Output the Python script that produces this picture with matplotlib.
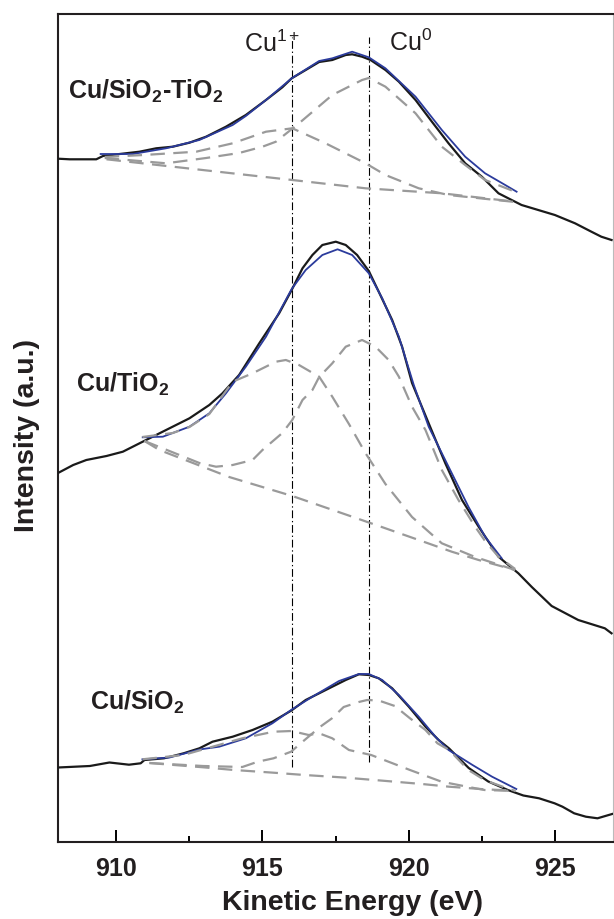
import matplotlib
matplotlib.use("Agg")
import matplotlib.pyplot as plt
from matplotlib.ticker import MultipleLocator

plt.rcParams['font.family'] = ['Liberation Sans', 'DejaVu Sans']
plt.rcParams['mathtext.fontset'] = 'custom'
plt.rcParams['mathtext.rm'] = 'Liberation Sans'
plt.rcParams['mathtext.bf'] = 'Liberation Sans:bold'
plt.rcParams['mathtext.it'] = 'Liberation Sans:italic'

# ---------------- data (kinetic energy eV, intensity a.u. with vertical offsets) -------------
# Cu/SiO2-TiO2 (top)
top_raw_E = [908.00, 908.40, 909.31, 909.54, 910.11, 910.79, 911.36, 911.93, 912.50, 913.07, 913.75,
             914.43, 915.12, 915.68, 916.00, 916.48, 916.94, 917.39, 917.85, 918.07, 918.41, 918.70,
             919.21, 919.67, 920.24, 920.80, 921.37, 921.94, 922.51, 923.08, 923.53, 923.87, 924.44,
             925.01, 925.70, 926.26, 926.60, 926.95]
top_raw_I = [683.3, 682.7, 682.7, 686.0, 688.0, 690.3, 693.7, 695.3, 699.3, 705.3, 715.3,
             727.0, 742.0, 754.7, 763.7, 772.0, 780.0, 782.0, 787.0, 787.7, 785.3, 782.0,
             772.0, 760.3, 742.0, 720.3, 698.7, 678.7, 665.3, 648.7, 642.0, 637.0, 632.0,
             627.0, 618.7, 610.3, 605.3, 602.0]
top_fit_E = [909.46, 910.56, 911.70, 912.84, 913.98, 914.43, 915.12, 916.00, 916.94, 917.39, 918.07,
             918.64, 919.21, 920.24, 921.14, 921.94, 922.62, 923.31, 923.70]
top_fit_I = [688.0, 688.0, 693.7, 702.0, 717.0, 726.0, 742.0, 763.7, 781.0, 783.7, 790.3,
             784.7, 773.7, 745.3, 712.0, 685.3, 668.7, 657.0, 650.3]
top_bg_E = [909.66, 916.02, 918.53, 921.14, 923.65]
top_bg_I = [682.7, 662.0, 653.7, 648.7, 640.3]
top_cu1_E = [909.60, 910.93, 912.73, 913.98, 915.12, 916.02, 917.16, 918.53, 919.21, 920.35, 921.37, 923.65]
top_cu1_I = [685.0, 687.0, 690.3, 698.7, 710.3, 713.7, 698.7, 678.7, 667.0, 653.7, 647.0, 640.0]
top_cu0_E = [909.60, 911.70, 913.07, 914.20, 915.00, 915.46, 916.25, 917.39, 918.41, 918.64, 919.21,
             920.24, 921.14, 921.94, 922.62, 923.65]
top_cu0_I = [684.0, 678.7, 684.0, 689.0, 695.3, 700.3, 718.7, 747.0, 762.0, 764.0, 755.3,
             728.7, 695.3, 677.0, 662.0, 650.3]

# Cu/TiO2 (middle)
mid_raw_E = [908.02, 908.52, 908.97, 909.66, 910.22, 910.90, 911.70, 912.50, 913.18, 913.63, 914.20,
             914.89, 915.57, 916.00, 916.37, 916.71, 917.05, 917.51, 917.85, 918.24, 918.64, 918.98,
             919.44, 919.78, 920.12, 920.69, 921.26, 921.83, 922.40, 923.08, 923.76, 924.22, 924.90,
             925.81, 926.72, 926.95]
mid_raw_I = [369.3, 377.0, 382.0, 386.0, 390.3, 400.3, 412.0, 423.7, 437.0, 448.7, 467.0,
             498.7, 528.7, 552.0, 573.7, 587.0, 597.0, 600.3, 597.0, 587.0, 571.0, 550.3,
             522.0, 495.3, 459.0, 418.7, 378.7, 342.0, 315.3, 285.3, 268.7, 255.0, 236.0,
             222.0, 213.7, 208.7]
mid_fit_E = [910.90, 911.59, 912.50, 913.18, 913.75, 914.43, 915.12, 916.00, 916.48, 917.05, 917.57,
             918.07, 918.64, 919.10, 919.67, 920.18, 920.69, 921.37, 922.05, 922.62, 923.19]
mid_fit_I = [404.7, 405.3, 415.3, 428.7, 448.7, 475.3, 505.3, 553.0, 572.0, 587.0, 592.7,
             587.0, 568.7, 543.7, 505.3, 457.0, 415.3, 375.3, 335.3, 305.3, 283.7]
mid_bg_E = [910.96, 911.47, 913.86, 916.02, 918.07, 919.21, 920.35, 921.48, 922.40, 923.65]
mid_bg_I = [401.0, 392.0, 365.0, 346.0, 325.3, 313.7, 302.0, 290.3, 282.0, 272.0]
mid_cu1_E = [910.89, 911.93, 912.50, 913.18, 913.98, 914.66, 915.46, 915.80, 916.25, 916.94, 917.39,
             917.96, 918.53, 919.21, 920.12, 921.14, 922.28, 923.65]
mid_cu1_I = [405.0, 409.0, 415.0, 428.0, 460.3, 468.7, 480.3, 482.0, 477.0, 465.3, 445.3,
             418.0, 388.7, 358.0, 325.0, 298.7, 285.0, 272.0]
mid_cu0_E = [910.96, 912.84, 913.41, 913.98, 914.66, 915.00, 915.68, 916.02, 916.37, 916.71, 916.94,
             917.39, 917.85, 918.41, 918.87, 919.32, 919.67, 920.12, 920.58, 921.14, 921.71, 922.28,
             922.62, 923.08, 923.65]
mid_cu0_I = [401.0, 379.0, 375.3, 377.0, 382.0, 392.0, 409.0, 422.0, 442.0, 452.0, 465.0,
             478.7, 495.3, 502.0, 495.3, 482.0, 465.3, 435.3, 412.0, 372.0, 342.0, 315.3,
             301.0, 285.3, 273.0]

# Cu/SiO2 (bottom)
bot_raw_E = [908.00, 909.09, 909.76, 910.43, 910.83, 910.96, 911.63, 912.30, 912.84, 913.29, 913.98,
             914.66, 915.34, 915.99, 916.48, 916.94, 917.39, 917.85, 918.30, 918.64, 918.98, 919.44,
             920.01, 920.58, 921.03, 921.39, 922.06, 922.73, 923.40, 923.93, 924.47, 925.00, 925.27,
             925.67, 926.07, 926.47, 926.97]
bot_raw_I = [74.5, 76.0, 79.5, 77.3, 78.7, 82.0, 83.7, 88.7, 93.7, 100.3, 105.3,
             112.0, 120.3, 131.5, 142.0, 148.7, 155.3, 162.0, 167.7, 167.0, 163.7, 153.7,
             135.3, 115.3, 102.0, 93.5, 74.0, 60.5, 52.0, 46.5, 43.7, 38.7, 35.3,
             28.7, 25.3, 23.7, 28.0]
bot_fit_E = [910.89, 911.82, 912.84, 913.52, 914.43, 915.34, 915.98, 916.71, 917.62, 918.30, 918.64,
             919.10, 919.67, 920.35, 920.92, 921.37, 922.19, 922.86, 923.69]
bot_fit_I = [82.7, 84.5, 92.5, 95.3, 103.7, 118.7, 132.0, 145.3, 161.0, 168.0, 168.0,
             162.0, 147.0, 125.3, 105.3, 92.0, 77.0, 65.3, 53.0]
bot_bg_E = [911.13, 911.76, 912.97, 914.03, 915.38, 916.44, 917.78, 919.12, 920.46, 921.39, 922.60, 923.66]
bot_bg_I = [79.0, 77.5, 74.7, 72.0, 69.3, 67.0, 64.5, 61.3, 58.0, 55.3, 52.7, 51.3]
bot_cu1_E = [910.89, 912.29, 913.50, 914.31, 915.38, 916.00, 916.58, 916.94, 917.39, 917.96, 918.72,
             920.05, 921.13, 922.06, 922.60, 923.66]
bot_cu1_I = [82.7, 87.0, 97.0, 103.7, 110.3, 111.0, 107.0, 108.7, 103.7, 92.0, 87.0,
             72.0, 60.3, 55.0, 52.0, 51.0]
bot_cu0_E = [911.13, 912.97, 914.31, 914.84, 915.38, 915.98, 916.31, 916.98, 917.38, 917.78, 918.30,
             918.58, 918.98, 919.53, 920.05, 920.58, 920.99, 921.39, 922.05, 922.60, 923.25, 923.66]
bot_cu0_I = [79.0, 76.0, 75.0, 80.3, 83.7, 90.3, 98.7, 115.3, 123.7, 135.0, 140.0,
             142.0, 141.5, 136.0, 123.7, 112.0, 98.7, 92.0, 72.0, 62.0, 55.0, 51.0]

peak_positions = [916.0, 918.65]
peak_names = ['Cu$^{\\mathregular{1+}}$', 'Cu$^{\\mathregular{0}}$']
sample_names = ['Cu/SiO$_\\mathbf{2}$-TiO$_\\mathbf{2}$', 'Cu/TiO$_\\mathbf{2}$', 'Cu/SiO$_\\mathbf{2}$']
x_ticks = [910, 915, 920, 925]

# ---------------- figure ----------------
fig = plt.figure(figsize=(6.14, 9.19), dpi=100)
ax = fig.add_axes([58/614, 77/919, 555/614, 828/919])

BLACK = '#1a1a1a'
BLUE = '#2b3b9c'
GRAY = '#9a9a9a'
TXT = '#231f20'

spectra = [
    (top_raw_E, top_raw_I, top_fit_E, top_fit_I, top_bg_E, top_bg_I, top_cu1_E, top_cu1_I, top_cu0_E, top_cu0_I),
    (mid_raw_E, mid_raw_I, mid_fit_E, mid_fit_I, mid_bg_E, mid_bg_I, mid_cu1_E, mid_cu1_I, mid_cu0_E, mid_cu0_I),
    (bot_raw_E, bot_raw_I, bot_fit_E, bot_fit_I, bot_bg_E, bot_bg_I, bot_cu1_E, bot_cu1_I, bot_cu0_E, bot_cu0_I),
]
for (rE, rI, fE, fI, bE, bI, aE, aI, cE, cI) in spectra:
    ax.plot(rE, rI, color=BLACK, lw=1.6, zorder=3)
    ax.plot(fE, fI, color=BLUE, lw=1.3, zorder=4)
    for xs, ys in [(bE, bI), (aE, aI), (cE, cI)]:
        ax.plot(xs, ys, color=GRAY, lw=1.6, dashes=(6.5, 3.8), zorder=5)

# reference lines
ax.vlines(peak_positions[0], 75, 805, colors='black', lw=0.8,
          linestyles=[(0, (7, 2.5, 1.2, 2.5))], zorder=2)
ax.vlines(peak_positions[1], 80, 805, colors='black', lw=0.8,
          linestyles=[(0, (7, 2.5, 1.2, 2.5))], zorder=2)

ax.text(914.375, 790, peak_names[0], fontsize=18, ha='left', va='baseline', color=TXT)
ax.text(919.32, 791, peak_names[1], fontsize=18, ha='left', va='baseline', color=TXT)

ax.text(908.33, 743, sample_names[0], fontsize=18, fontweight='bold', ha='left', va='baseline', color=TXT)
ax.text(908.61, 450, sample_names[1], fontsize=18, fontweight='bold', ha='left', va='baseline', color=TXT)
ax.text(909.09, 132, sample_names[2], fontsize=18, fontweight='bold', ha='left', va='baseline', color=TXT)

ax.set_xlim(908, 927)
ax.set_ylim(0, 828)
ax.set_yticks([])
ax.set_xticks(x_ticks)
ax.set_xticklabels([str(t) for t in x_ticks], fontsize=18, fontweight='bold', color=TXT)
ax.xaxis.set_minor_locator(MultipleLocator(2.5))
ax.tick_params(axis='x', which='major', direction='in', length=8.5, width=1.4, pad=11)
ax.tick_params(axis='x', which='minor', direction='in', length=4.2, width=1.4)
ax.tick_params(axis='x', top=False)
for side in ['left', 'bottom', 'top']:
    ax.spines[side].set_linewidth(1.5)
    ax.spines[side].set_color(TXT)
ax.spines['right'].set_linewidth(0.8)
ax.spines['right'].set_color('#bbbbbb')

fig.text(352/614, 9/919, 'Kinetic Energy (eV)', fontsize=20.5, fontweight='bold',
         ha='center', va='baseline', color=TXT)
fig.text(27.5/614, (919-436)/919, 'Intensity (a.u.)', fontsize=20.5, fontweight='bold',
         ha='center', va='center', rotation=90, color=TXT)

fig.savefig('out.png', dpi=100)
